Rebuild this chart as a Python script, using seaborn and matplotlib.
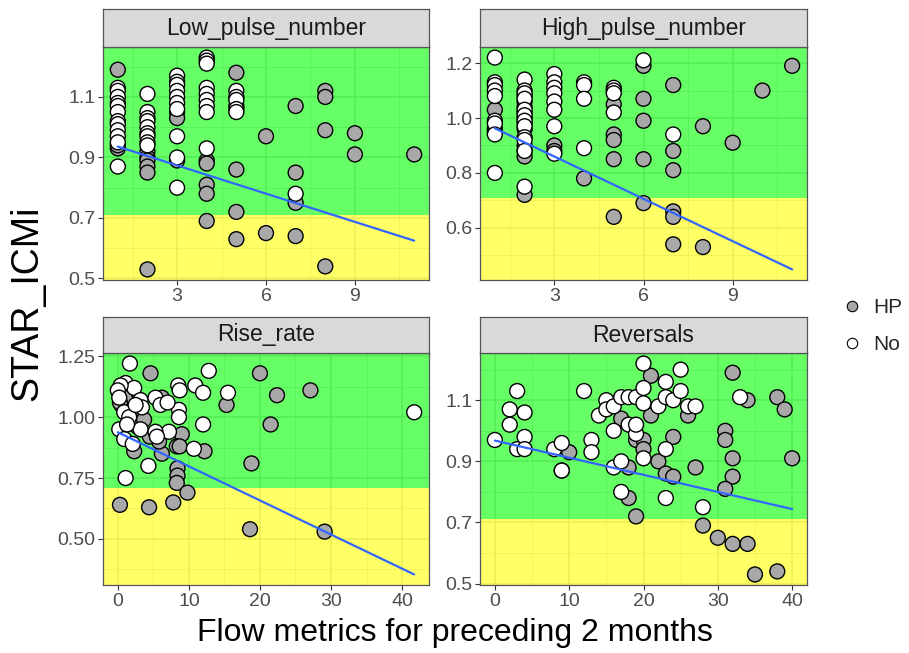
import numpy as np
import pandas as pd
import matplotlib
matplotlib.use("Agg")
import matplotlib.pyplot as plt
from matplotlib.lines import Line2D
from matplotlib.ticker import FixedLocator
import seaborn as sns

# ---------------- data ----------------
panels = ["Low_pulse_number", "High_pulse_number", "Rise_rate", "Reversals"]
groups = ["HP", "No"]

lpn_hp_x = [1, 1, 1, 2, 2, 2, 2, 2, 2, 3, 3, 3, 4, 4, 4, 4, 4, 5, 5, 5, 5, 5,
            6, 6, 7, 7, 7, 7, 8, 8, 8, 8, 9, 9, 11]
lpn_hp_y = [1.19, 0.93, 0.94, 0.92, 0.90, 0.89, 0.87, 0.85, 0.53, 1.05, 1.03, 0.89,
            0.89, 0.88, 0.81, 0.78, 0.69, 1.18, 1.07, 0.86, 0.72, 0.63,
            0.97, 0.65, 1.07, 0.85, 0.75, 0.64, 1.12, 1.10, 0.99, 0.54, 0.98, 0.91, 0.91]
lpn_no_x = [1, 1, 1, 1, 1, 1, 1, 1, 1, 1, 1, 1,
            2, 2, 2, 2, 2, 2, 2, 2, 2,
            3, 3, 3, 3, 3, 3, 3, 3, 3, 3,
            4, 4, 4, 4, 4, 4, 4, 4, 4,
            5, 5, 5, 5, 5, 7]
lpn_no_y = [1.13, 1.12, 1.10, 1.08, 1.07, 1.05, 1.02, 1.01, 0.99, 0.97, 0.95, 0.87,
            1.11, 1.05, 1.03, 1.02, 1.00, 0.98, 0.97, 0.95, 0.94,
            1.17, 1.15, 1.14, 1.12, 1.10, 1.08, 1.06, 0.97, 0.90, 0.80,
            1.23, 1.22, 1.21, 1.13, 1.11, 1.09, 1.07, 1.05, 0.93,
            1.12, 1.10, 1.09, 1.06, 1.05, 0.78]

hpn_hp_x = [1, 1, 1, 2, 2, 2, 2, 2, 2, 2, 2, 2, 2, 2, 3, 3, 4, 5, 5, 5, 5, 5,
            6, 6, 6, 6, 6, 7, 7, 7, 7, 7, 7, 8, 8, 9, 10, 11]
hpn_hp_y = [1.03, 0.96, 0.95, 1.08, 1.06, 1.04, 1.02, 1.00, 0.98, 0.96, 0.90, 0.88, 0.86, 0.72,
            0.90, 0.88, 0.78, 1.05, 0.94, 0.92, 0.85, 0.64,
            1.19, 1.07, 0.99, 0.85, 0.69, 1.12, 0.88, 0.81, 0.66, 0.64, 0.54,
            0.97, 0.53, 0.91, 1.10, 1.19]
hpn_no_x = [1, 1, 1, 1, 1, 1, 1, 1, 1,
            2, 2, 2, 2, 2, 2, 2, 2, 2, 2, 2, 2,
            3, 3, 3, 3, 3, 3, 3, 3,
            4, 4, 4, 4, 5, 5, 5, 5, 6, 7]
hpn_no_y = [1.22, 1.13, 1.12, 1.10, 1.08, 0.99, 0.98, 0.94, 0.80,
            1.14, 1.10, 1.09, 1.07, 1.03, 1.01, 0.99, 0.97, 0.93, 0.92, 0.88, 0.75,
            1.16, 1.13, 1.11, 1.09, 1.06, 1.03, 0.97, 0.87,
            1.13, 1.12, 1.07, 0.89, 1.11, 1.10, 1.09, 1.02, 1.21, 0.94]

rr_hp_x = [4.6, 20.0, 22.4, 27.1, 15.3, 21.5, 18.8, 9.0, 8.3, 8.7, 12.2, 6.2, 8.4, 8.4,
           8.3, 9.8, 0.3, 4.4, 7.8, 18.6, 29.1,
           0.2, 0.5, 2.3, 2.8, 2.3, 5.8, 6.2, 5.8, 3.7, 1.0, 0.3, 4.5]
rr_hp_y = [1.18, 1.18, 1.09, 1.11, 1.05, 0.97, 0.81, 0.93, 0.88, 0.88, 0.86, 0.85, 0.79, 0.76,
           0.73, 0.69, 0.64, 0.63, 0.65, 0.54, 0.53,
           1.10, 1.05, 0.98, 0.96, 0.86, 1.07, 1.08, 0.90, 0.99, 1.08, 1.06, 0.92]
rr_no_x = [1.7, 12.8, 1.1, 2.3, 8.5, 8.7, 10.9, 12.0, 15.5, 3.2, 3.4, 8.6, 8.6, 12.0,
           0.2, 0.9, 7.2, 10.7, 4.3, 1.1, 41.7,
           0.4, 0.0, 0.2, 0.9, 1.6, 2.1, 3.2, 5.3, 5.5, 5.3, 6.0, 7.0, 2.5, 1.3]
rr_no_y = [1.22, 1.19, 1.14, 1.12, 1.13, 1.11, 1.13, 1.10, 1.10, 1.07, 1.04, 1.03, 1.00, 0.97,
           0.95, 0.91, 0.94, 0.87, 0.80, 0.75, 1.02,
           1.13, 1.11, 1.08, 1.02, 1.00, 0.89, 0.95, 0.94, 0.92, 1.08, 1.05, 1.06, 1.05, 0.97]

rev_hp_x = [10, 17, 18, 18, 19, 21, 19, 20, 20, 21, 22, 23, 24, 24, 26, 27, 28, 30, 32, 34,
            32, 34, 31, 31, 32, 32, 31, 35, 38, 39, 40, 38]
rev_hp_y = [0.93, 1.04, 0.78, 0.88, 0.72, 1.18, 0.97, 0.97, 0.94, 1.05, 0.90, 0.86, 0.85, 0.98,
            1.05, 0.88, 0.69, 0.65, 0.63, 0.63, 1.19, 1.10, 1.00, 0.97, 0.91, 0.85, 0.81, 0.53,
            1.11, 1.07, 0.91, 0.54]
rev_no_x = [0, 3, 2, 2, 4, 3, 4, 4, 8, 9, 9, 9, 12, 13, 13, 14, 15, 15, 16, 16, 16, 17, 17,
            17, 18, 19, 18, 19, 19, 20, 20, 20, 20, 22, 23, 23, 23, 24, 25, 25, 26, 27, 23, 28, 33]
rev_no_y = [0.97, 1.13, 1.07, 1.02, 1.06, 0.94, 0.98, 0.94, 0.94, 0.96, 0.87, 0.87, 1.13, 0.97,
            0.93, 1.05, 1.10, 1.07, 1.08, 1.00, 0.88, 0.90, 0.80, 1.11, 1.11, 1.11, 1.02, 0.99,
            1.02, 1.22, 1.14, 1.09, 0.91, 1.08, 1.16, 1.11, 0.94, 1.10, 1.20, 1.13, 1.08, 1.08,
            0.78, 0.75, 1.11]

# fitted trend lines (intercept, slope)
fit_intercept = [0.967, 1.014, 0.938, 0.968]
fit_slope = [-0.0311, -0.0514, -0.0140, -0.0056]

threshold = 0.71

series = {
    "Low_pulse_number": (lpn_hp_x, lpn_hp_y, lpn_no_x, lpn_no_y),
    "High_pulse_number": (hpn_hp_x, hpn_hp_y, hpn_no_x, hpn_no_y),
    "Rise_rate": (rr_hp_x, rr_hp_y, rr_no_x, rr_no_y),
    "Reversals": (rev_hp_x, rev_hp_y, rev_no_x, rev_no_y),
}
rows = []
for p, (hx, hy, nx, ny) in series.items():
    for x, y in zip(hx, hy):
        rows.append((p, x, y, "HP"))
    for x, y in zip(nx, ny):
        rows.append((p, x, y, "No"))
df = pd.DataFrame(rows, columns=["metric", "x", "y", "group"])

# ---------------- style ----------------
sns.set_style("white")
plt.rcParams["font.family"] = ["Liberation Sans", "DejaVu Sans"]

W, H = 909, 653
fig = plt.figure(figsize=(W / 100, H / 100), dpi=100)

def rect(x0, y0, x1, y1):
    return [x0 / W, 1 - y1 / H, (x1 - x0) / W, (y1 - y0) / H]

layout = {
    "Low_pulse_number": ((103, 47, 429, 280), (103, 9, 429, 47)),
    "High_pulse_number": ((480, 47, 807, 280), (480, 9, 807, 47)),
    "Rise_rate": ((103, 353, 429, 585), (103, 317, 429, 353)),
    "Reversals": ((480, 353, 807, 585), (480, 317, 807, 353)),
}
ticks = {
    "Low_pulse_number": ([3, 6, 9], [1.5, 4.5, 7.5, 10.5],
                         [0.5, 0.7, 0.9, 1.1], [0.6, 0.8, 1.0, 1.2], "{:.1f}"),
    "High_pulse_number": ([3, 6, 9], [1.5, 4.5, 7.5, 10.5],
                          [0.6, 0.8, 1.0, 1.2], [0.5, 0.7, 0.9, 1.1], "{:.1f}"),
    "Rise_rate": ([0, 10, 20, 30, 40], [5, 15, 25, 35],
                  [0.5, 0.75, 1.0, 1.25], [0.375, 0.625, 0.875, 1.125], "{:.2f}"),
    "Reversals": ([0, 10, 20, 30, 40], [5, 15, 25, 35],
                  [0.5, 0.7, 0.9, 1.1], [0.6, 0.8, 1.0, 1.2], "{:.1f}"),
}
palette = {"HP": "#A8A8A8", "No": "white"}
border = "#555555"

for i, p in enumerate(panels):
    prect, srect = layout[p]
    ax = fig.add_axes(rect(*prect))
    sub = df[df["metric"] == p]
    sns.scatterplot(data=sub, x="x", y="y", hue="group", hue_order=groups,
                    palette=palette, edgecolor="black", linewidth=1.0, s=115,
                    legend=False, ax=ax, zorder=3)
    xs = np.array([sub["x"].min(), sub["x"].max()])
    fit = pd.DataFrame({"x": xs, "y": fit_intercept[i] + fit_slope[i] * xs})
    sns.lineplot(data=fit, x="x", y="y", color="#3366FF", lw=1.6, ax=ax, zorder=4)
    ax.margins(0.05)
    ax.autoscale_view()
    xl = ax.get_xlim()
    yl = ax.get_ylim()
    ax.axhspan(yl[0] - 1, threshold, color=(1, 1, 0), alpha=0.6, lw=0, zorder=1)
    ax.axhspan(threshold, yl[1] + 1, color=(0, 1, 0), alpha=0.6, lw=0, zorder=1)
    ax.set_xlim(xl)
    ax.set_ylim(yl)

    xmaj, xmin, ymaj, ymin, fmt = ticks[p]
    ax.xaxis.set_major_locator(FixedLocator(xmaj))
    ax.xaxis.set_minor_locator(FixedLocator(xmin))
    ax.yaxis.set_major_locator(FixedLocator(ymaj))
    ax.yaxis.set_minor_locator(FixedLocator(ymin))
    ax.set_xticklabels([str(v) for v in xmaj])
    ax.set_yticklabels([fmt.format(v) for v in ymaj])
    ax.set_axisbelow(True)
    ax.grid(which="major", color="#D2D2D2", lw=1.1)
    ax.grid(which="minor", color="#DCDCDC", lw=0.6)
    ax.tick_params(which="major", direction="out", length=3.5, width=0.8,
                   color="#333333", labelcolor="#4D4D4D", labelsize=14, pad=2,
                   bottom=True, left=True)
    ax.tick_params(which="minor", length=0)
    for s in ax.spines.values():
        s.set_color(border)
        s.set_linewidth(0.9)
    ax.set_xlabel("")
    ax.set_ylabel("")

    sax = fig.add_axes(rect(*srect))
    sax.set_facecolor("#D9D9D9")
    sax.set_xticks([])
    sax.set_yticks([])
    for s in sax.spines.values():
        s.set_color(border)
        s.set_linewidth(0.9)
    sax.text(0.5, 0.5, p, ha="center", va="center", fontsize=16.5,
             color="#1A1A1A", transform=sax.transAxes)

fig.text(455 / W, 1 - 633 / H, "Flow metrics for preceding 2 months",
         ha="center", va="center", fontsize=23, color="black")
fig.text(27 / W, 1 - 303 / H, "STAR_ICMi", ha="center", va="center",
         rotation=90, fontsize=27, color="black")

handles = [Line2D([], [], marker="o", ls="", markerfacecolor=palette[g],
                  markeredgecolor="black", markeredgewidth=0.8, markersize=7.5)
           for g in groups]
fig.legend(handles, groups, loc="center left", bbox_to_anchor=(842 / W, 1 - 326 / H),
           frameon=False, fontsize=15, handlelength=1.0, handletextpad=0.5,
           labelspacing=0.85, borderpad=0, borderaxespad=0)

fig.savefig("out.png", dpi=100)
